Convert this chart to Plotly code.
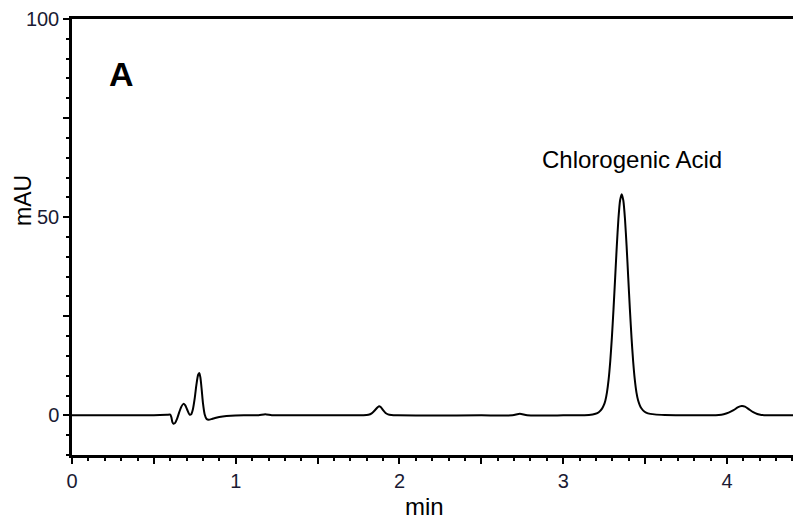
import plotly.graph_objects as go

# Chromatogram trace (retention time in min, absorbance in mAU)
TIME = [0.00, 0.30, 0.50, 0.58, 0.600, 0.607, 0.613, 0.620, 0.630, 0.642, 0.655, 0.668, 0.680,
        0.692, 0.705, 0.718, 0.728, 0.738, 0.750, 0.760, 0.770, 0.777, 0.784, 0.792, 0.800,
        0.810, 0.822, 0.835, 0.855, 0.880, 0.920, 0.970, 1.050, 1.140, 1.180, 1.220, 1.300,
        1.500, 1.700, 1.780, 1.810, 1.830, 1.850, 1.865, 1.875, 1.885, 1.900, 1.915, 1.930,
        1.950, 1.990, 2.200, 2.500, 2.690, 2.735, 2.780, 3.000, 3.100, 3.157, 3.197, 3.217,
        3.237, 3.247, 3.257, 3.267, 3.277, 3.287, 3.297, 3.307, 3.317, 3.327, 3.337, 3.347,
        3.357, 3.367, 3.377, 3.387, 3.397, 3.407, 3.417, 3.427, 3.437, 3.447, 3.457, 3.467,
        3.477, 3.497, 3.517, 3.557, 3.620, 3.750, 3.900, 3.950, 3.980, 4.010, 4.040, 4.065,
        4.090, 4.110, 4.135, 4.160, 4.185, 4.210, 4.250, 4.300, 4.452]
MAU = [0.0, 0.0, 0.05, 0.15, 0.2, -0.5, -1.7, -2.1, -1.9, -0.8, 0.8, 2.2, 2.9,
       2.5, 1.3, 0.2, 0.3, 1.5, 4.5, 7.8, 10.2, 10.7, 9.6, 6.5, 3.0,
       0.3, -0.9, -1.1, -0.9, -0.6, -0.3, -0.1, 0.0, 0.05, 0.3, 0.05, 0.0,
       0.0, 0.0, 0.02, 0.15, 0.5, 1.3, 2.0, 2.3, 2.1, 1.3, 0.6, 0.25,
       0.08, 0.0, -0.05, 0.0, 0.0, 0.4, 0.0, 0.0, 0.05, 0.1, 0.4, 0.8,
       1.7, 2.5, 3.7, 5.8, 9.0, 13.6, 19.6, 26.8, 34.7, 42.7, 49.6, 54.2,
       55.8, 54.2, 49.6, 42.7, 34.7, 26.8, 19.6, 13.6, 9.0, 5.8, 3.8, 2.6,
       1.8, 0.9, 0.5, 0.25, 0.1, 0.0, 0.02, 0.1, 0.3, 0.7, 1.3, 2.0,
       2.35, 2.2, 1.5, 0.8, 0.35, 0.12, 0.03, 0.0, 0.0]

X_TICKS = [0, 0.5, 1, 1.5, 2, 2.5, 3, 3.5, 4]
X_LABELS = ["0", "", "1", "", "2", "", "3", "", "4"]
Y_TICKS = [0, 25, 50, 75, 100]
Y_LABELS = ["0", "", "50", "", "100"]

X_TITLE = "min"
Y_TITLE = "mAU"
PEAK_LABEL = "Chlorogenic Acid"
PANEL_LABEL = "A"

FONT = "Liberation Sans, Arial, sans-serif"
TICK_COLOR = "#1a1a33"

fig = go.Figure()
fig.add_trace(go.Scatter(
    x=TIME, y=MAU, mode="lines",
    line=dict(color="black", width=2, shape="spline", smoothing=0.6),
    hoverinfo="skip", showlegend=False,
))

# the page body has an 8 px margin, so the figure is 8 px smaller than the window
fig.update_layout(
    width=793, height=508,
    margin=dict(l=64, r=0, t=11, b=61, autoexpand=False),
    paper_bgcolor="white", plot_bgcolor="white",
    font=dict(family=FONT, color="black"),
    xaxis=dict(
        range=[0, 4.452], showgrid=False, zeroline=False, automargin=False,
        showline=True, linecolor="black", linewidth=2.5, mirror=True,
        tickmode="array", tickvals=X_TICKS, ticktext=X_LABELS,
        ticks="outside", ticklen=6, tickwidth=2, tickcolor="black",
        tickfont=dict(size=20, color=TICK_COLOR, family=FONT),
        minor=dict(dtick=0.1, tick0=0, ticks="outside", ticklen=3, tickwidth=2, tickcolor="black"),
        ticklabelstandoff=0,
    ),
    yaxis=dict(
        range=[-10, 100], showgrid=False, zeroline=False, automargin=False,
        showline=True, linecolor="black", linewidth=2.5, mirror=False,
        tickmode="array", tickvals=Y_TICKS, ticktext=Y_LABELS,
        ticks="outside", ticklen=6, tickwidth=2, tickcolor="black",
        tickfont=dict(size=20, color=TICK_COLOR, family=FONT),
        minor=dict(dtick=5, tick0=0, ticks="outside", ticklen=3, tickwidth=2, tickcolor="black"),
        ticklabelstandoff=0,
    ),
    annotations=[
        dict(x=0.4842, y=-0.118, xref="paper", yref="paper", text=X_TITLE, showarrow=False,
             xanchor="center", yanchor="middle",
             font=dict(size=24, color="black", family=FONT)),
        dict(x=-0.0672, y=0.5826, xref="paper", yref="paper", text=Y_TITLE, showarrow=False,
             xanchor="center", yanchor="middle", textangle=-90,
             font=dict(size=23, color="black", family=FONT)),
        dict(x=3.42, y=64.5, xref="x", yref="y", text=PEAK_LABEL, showarrow=False,
             font=dict(size=24, color="black", family=FONT)),
        dict(x=0.30, y=86, xref="x", yref="y", text="<b>" + PANEL_LABEL + "</b>", showarrow=False,
             font=dict(size=34, color="black", family=FONT)),
    ],
)

fig.write_html("out.html")
